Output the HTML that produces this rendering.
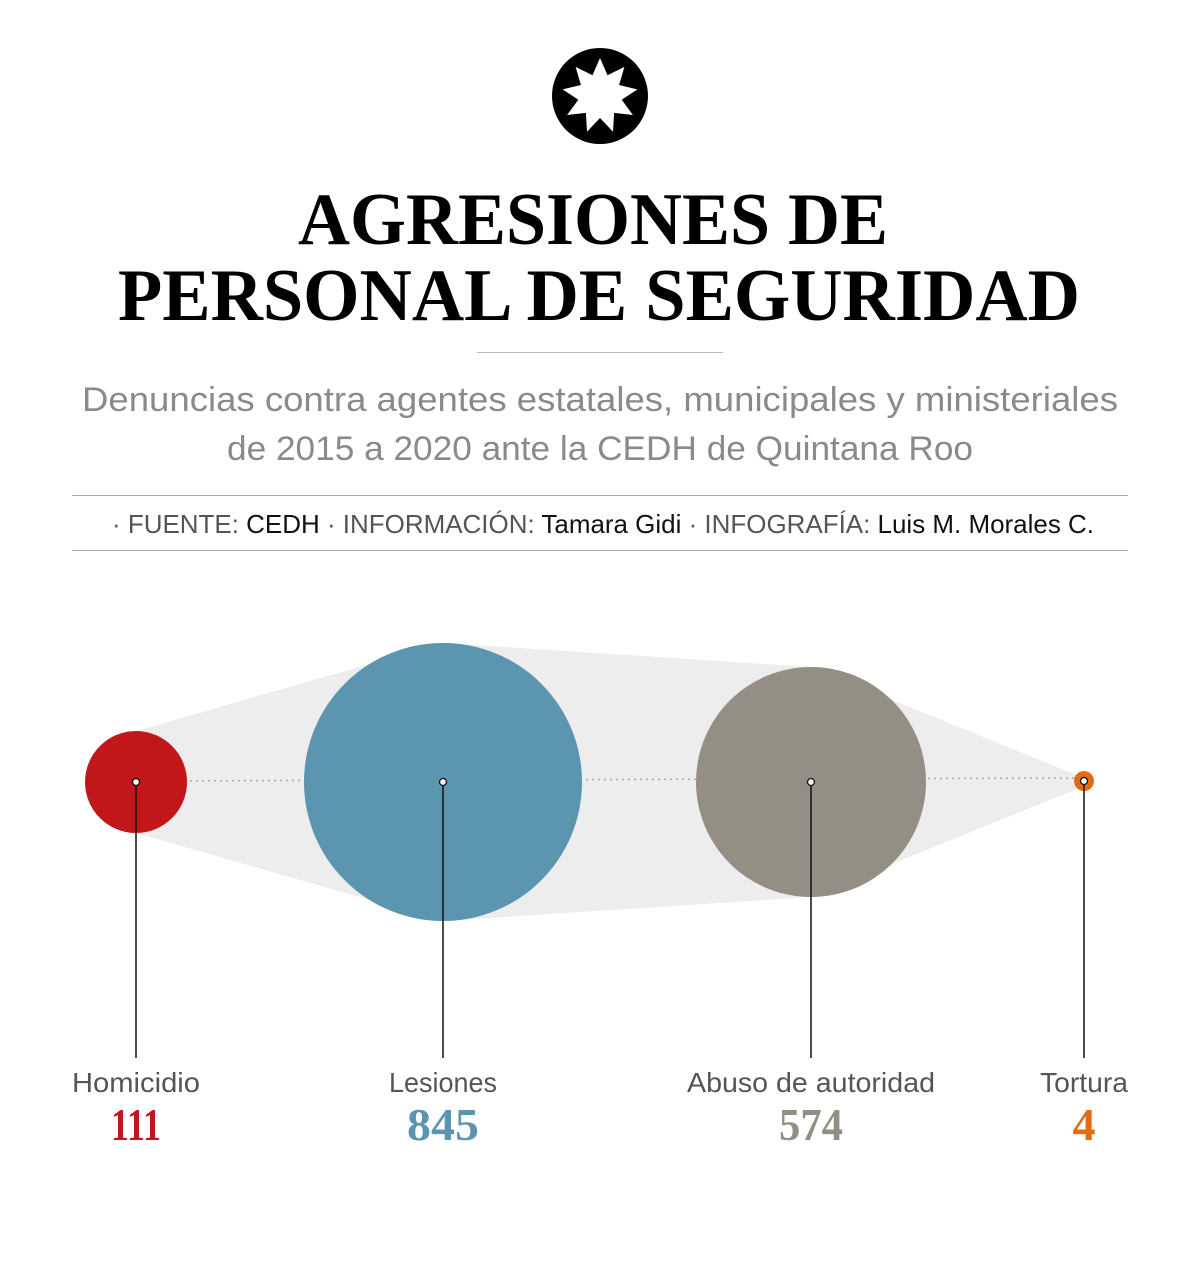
<!DOCTYPE html>
<html><head><meta charset="utf-8"><style>
html,body{margin:0;padding:0;background:#fff;}
svg{display:block;}
</style></head><body>
<svg width="1200" height="1261" viewBox="0 0 1200 1261" xmlns="http://www.w3.org/2000/svg">
<circle cx="600" cy="96" r="48" fill="#000"/>
<polygon transform="translate(600,96)" fill="#fff" points="0,-38 7.5,-20.7 24.4,-29.1 19.1,-11 37.4,-6.6 21.7,3.8 32.9,19 14.1,16.9 13,35.7 0,22 -13,35.7 -14.1,16.9 -32.9,19 -21.7,3.8 -37.4,-6.6 -19.1,-11 -24.4,-29.1 -7.5,-20.7"/>
<g font-family="Liberation Serif, serif" font-weight="bold" fill="#000" font-size="74">
<text x="298" y="244" textLength="590" lengthAdjust="spacingAndGlyphs">AGRESIONES DE</text>
<text x="118" y="320" textLength="962" lengthAdjust="spacingAndGlyphs">PERSONAL DE SEGURIDAD</text>
</g>
<line x1="477" y1="352.5" x2="723" y2="352.5" stroke="#bbb" stroke-width="1"/>
<g font-family="Liberation Sans, sans-serif" fill="#8a8a8a" font-size="34" text-anchor="middle">
<text x="600" y="411" textLength="1036" lengthAdjust="spacingAndGlyphs">Denuncias contra agentes estatales, municipales y ministeriales</text>
<text x="600" y="460" textLength="746" lengthAdjust="spacingAndGlyphs">de 2015 a 2020 ante la CEDH de Quintana Roo</text>
</g>
<line x1="72" y1="495.5" x2="1128" y2="495.5" stroke="#aaa" stroke-width="1"/>
<line x1="72" y1="550.5" x2="1128" y2="550.5" stroke="#aaa" stroke-width="1"/>
<text x="112" y="533" font-family="Liberation Sans, sans-serif" font-size="26" fill="#555" textLength="982" lengthAdjust="spacingAndGlyphs">· FUENTE: <tspan fill="#111">CEDH</tspan> · INFORMACIÓN: <tspan fill="#111">Tamara Gidi</tspan> · INFOGRAFÍA: <tspan fill="#111">Luis M. Morales C.</tspan></text>
<polygon points="136,731 443,643 811,667 1084,778 1084,786 811,897 443,921 136,833" fill="#ededed"/>
<line x1="136" y1="781" x2="1084" y2="778" stroke="#aaa" stroke-width="1.5" stroke-dasharray="2,4"/>
<circle cx="136" cy="782" r="51" fill="#c1161a"/>
<circle cx="443" cy="782" r="139" fill="#5b95af"/>
<circle cx="811" cy="782" r="115" fill="#938f85"/>
<circle cx="1084" cy="781" r="10" fill="#e06c15"/>
<g stroke="#111" stroke-width="1.5">
<line x1="136" y1="782" x2="136" y2="1058"/>
<line x1="443" y1="782" x2="443" y2="1058"/>
<line x1="811" y1="782" x2="811" y2="1058"/>
<line x1="1084" y1="781" x2="1084" y2="1058"/>
</g>
<g fill="#fff" stroke="#111" stroke-width="1.3">
<circle cx="136" cy="782" r="3.5"/>
<circle cx="443" cy="782" r="3.5"/>
<circle cx="811" cy="782" r="3.5"/>
<circle cx="1084" cy="781" r="3.5"/>
</g>
<g font-family="Liberation Sans, sans-serif" font-size="28" fill="#555" text-anchor="middle">
<text x="136" y="1092" textLength="128" lengthAdjust="spacingAndGlyphs">Homicidio</text>
<text x="443" y="1092" textLength="108" lengthAdjust="spacingAndGlyphs">Lesiones</text>
<text x="811" y="1092" textLength="248" lengthAdjust="spacingAndGlyphs">Abuso de autoridad</text>
<text x="1084" y="1092" textLength="88" lengthAdjust="spacingAndGlyphs">Tortura</text>
</g>
<g font-family="Liberation Serif, serif" font-weight="bold" font-size="46" text-anchor="middle">
<text x="136" y="1140" fill="#c1161a" textLength="50" lengthAdjust="spacingAndGlyphs">111</text>
<text x="443" y="1140" fill="#5b95af" textLength="72" lengthAdjust="spacingAndGlyphs">845</text>
<text x="811" y="1140" fill="#938f85" textLength="64" lengthAdjust="spacingAndGlyphs">574</text>
<text x="1084" y="1140" fill="#e06c15">4</text>
</g>
</svg>
</body></html>
